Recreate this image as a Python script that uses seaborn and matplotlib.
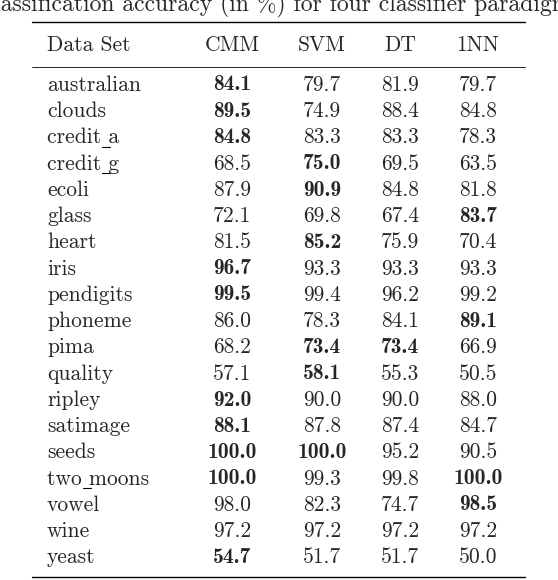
import matplotlib
matplotlib.use("Agg")
import matplotlib.pyplot as plt
import seaborn as sns

sns.set_theme(style="white")
plt.rcParams['font.family'] = ['cmr10', 'DejaVu Serif']
plt.rcParams['axes.formatter.use_mathtext'] = True

datasets = ["australian", "clouds", "credit_a", "credit_g", "ecoli", "glass", "heart",
            "iris", "pendigits", "phoneme", "pima", "quality", "ripley", "satimage",
            "seeds", "two_moons", "vowel", "wine", "yeast"]
columns = ["CMM", "SVM", "DT", "1NN"]
cmm = [84.1, 89.5, 84.8, 68.5, 87.9, 72.1, 81.5, 96.7, 99.5, 86.0, 68.2, 57.1, 92.0, 88.1, 100.0, 100.0, 98.0, 97.2, 54.7]
svm = [79.7, 74.9, 83.3, 75.0, 90.9, 69.8, 85.2, 93.3, 99.4, 78.3, 73.4, 58.1, 90.0, 87.8, 100.0, 99.3, 82.3, 97.2, 51.7]
dt = [81.9, 88.4, 83.3, 69.5, 84.8, 67.4, 75.9, 93.3, 96.2, 84.1, 73.4, 55.3, 90.0, 87.4, 95.2, 99.8, 74.7, 97.2, 51.7]
nn1 = [79.7, 84.8, 78.3, 63.5, 81.8, 83.7, 70.4, 93.3, 99.2, 89.1, 66.9, 50.5, 88.0, 84.7, 90.5, 100.0, 98.5, 97.2, 50.0]
title = "Classification accuracy (in %) for four classifier paradigms"

fig = plt.figure(figsize=(5.58, 5.8), dpi=100)
ax = fig.add_axes([0, 0, 1, 1])
ax.set_xlim(0, 558)
ax.set_ylim(580, 0)
ax.axis("off")

fs = 15.5
ax.text(279, 11, title, ha="center", va="baseline", fontsize=fs + 1.5)
ax.plot([32, 525], [22, 22], color="black", lw=1.0)
ax.plot([32, 525], [67, 67], color="black", lw=0.6)
ax.plot([32, 525], [577, 577], color="black", lw=1.0)

xcols = [232, 322, 400, 478]
ax.text(47, 45, "Data Set", ha="left", va="center", fontsize=fs)
for x, c in zip(xcols, columns):
    ax.text(x, 45, c, ha="center", va="center", fontsize=fs)

series = [cmm, svm, dt, nn1]
y0, dy = 85, 26.25
for i, name in enumerate(datasets):
    y = y0 + i * dy
    ax.text(47, y, name.replace("_", " "), ha="left", va="center", fontsize=fs)
    row = [s[i] for s in series]
    m = max(row)
    alleq = all(v == m for v in row)
    for x, v in zip(xcols, row):
        bold = (v == m) and not alleq
        ax.text(x, y, f"{v:.1f}", ha="center", va="center", fontsize=fs,
                family=['cmb10', 'DejaVu Serif'] if bold else ['cmr10', 'DejaVu Serif'])

# draw underscores as short lines after the prefix text
fig.canvas.draw()
r = fig.canvas.get_renderer()
for i, name in enumerate(datasets):
    if "_" in name:
        y = y0 + i * dy
        k = name.index("_")
        t = ax.text(47, y, name[:k], ha="left", va="center", fontsize=fs, alpha=0)
        bb = t.get_window_extent(r).transformed(ax.transData.inverted())
        x1 = bb.x1
        ax.plot([x1 + 1, x1 + 9], [y + 9, y + 9], color="black", lw=0.8)

fig.savefig("out.png", dpi=100)
